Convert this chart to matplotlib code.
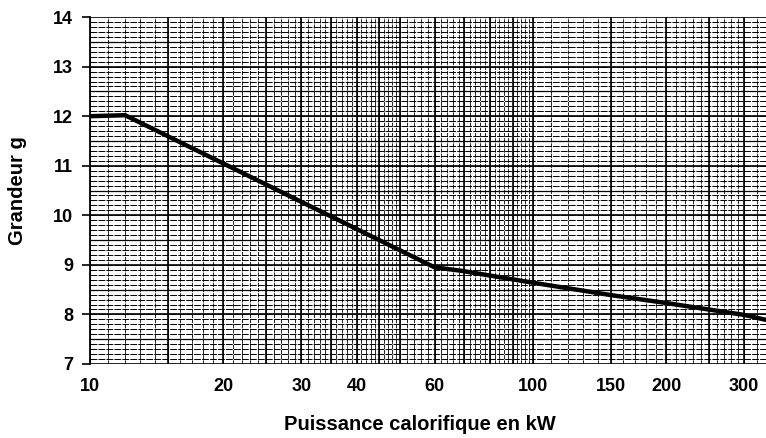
import numpy as np
import matplotlib.pyplot as plt

# curve
puissance = [10, 12, 60, 69, 100, 150, 200, 300, 336]
grandeur = [12.0, 12.02, 8.95, 8.88, 8.64, 8.39, 8.23, 7.99, 7.89]

xticks = [10, 20, 30, 40, 60, 100, 150, 200, 300]
yticks = [7, 8, 9, 10, 11, 12, 13, 14]

plt.rcParams['font.family'] = ['Liberation Sans', 'DejaVu Sans']
plt.rcParams['font.weight'] = 'bold'

fig = plt.figure(figsize=(7.66, 4.38), dpi=100)
ax = fig.add_axes([0.1175, 0.169, 0.8825, 0.792])
ax.set_xscale('log')
ax.set_xlim(10, 336)
ax.set_ylim(7, 14)

# log paper grid
heavy_x = [10, 15, 20, 25, 30, 35, 40, 45, 50, 60, 70, 80, 90, 100, 150, 200, 250, 300]
fine_x = np.concatenate([np.arange(10, 50, 1), np.arange(50, 100, 2),
                         np.arange(100, 300, 10), np.arange(300, 340, 20)])
for v in fine_x:
    ax.axvline(v, color='black', lw=0.6, ls=(0, (5, 1.2)), zorder=1)
for v in heavy_x:
    ax.axvline(v, color='black', lw=1.2, zorder=2)
for h in np.arange(7, 14, 0.1):
    ax.axhline(h, color='black', lw=0.7, ls=(0, (7, 1.2)), zorder=1)
for h in np.arange(7.5, 14, 1.0):
    ax.axhline(h, color='black', lw=0.9, zorder=1)
for h in yticks:
    ax.axhline(h, color='black', lw=1.2, zorder=2)

ax.plot(puissance, grandeur, color='black', lw=3.2, solid_joinstyle='miter', zorder=5)

ax.set_xticks(xticks)
ax.set_xticklabels([str(t) for t in xticks])
ax.xaxis.set_minor_locator(plt.NullLocator())
ax.set_yticks(yticks)
ax.tick_params(axis='x', length=0, labelsize=13, pad=10)
ax.tick_params(axis='y', length=6, width=1.2, labelsize=13, pad=6)
for s in ['top', 'right', 'bottom']:
    ax.spines[s].set_visible(False)
ax.spines['left'].set_linewidth(1.3)

ax.set_ylabel('Grandeur g', fontsize=14.5, fontweight='bold')
ax.yaxis.set_label_coords(-0.093, 0.5)
ax.set_xlabel('Puissance calorifique en kW', fontsize=14.5, fontweight='bold')
ax.xaxis.set_label_coords(0.488, -0.147)

fig.savefig('out.png', dpi=100)
